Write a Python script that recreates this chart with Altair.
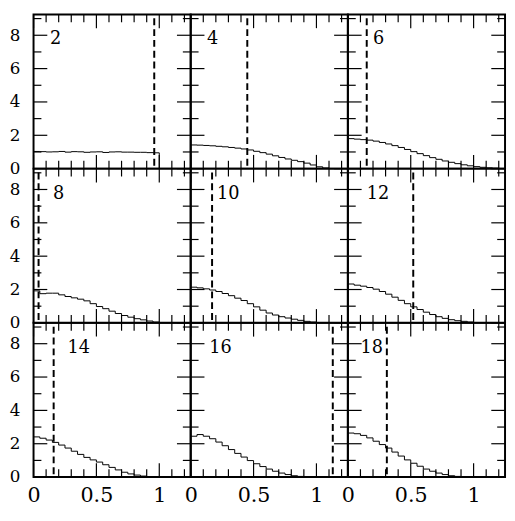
import altair as alt
import pandas as pd

panels = [2, 4, 6, 8, 10, 12, 14, 16, 18]

edges = [0.00, 0.05, 0.10, 0.15, 0.20, 0.25, 0.30, 0.35, 0.40, 0.45, 0.50, 0.55,
         0.60, 0.65, 0.70, 0.75, 0.80, 0.85, 0.90, 0.95, 1.00, 1.05, 1.10, 1.15, 1.20]

h2 = [1.03, 1.02, 1.00, 1.01, 1.03, 0.99, 1.02, 1.01, 0.98, 1.00, 1.01, 0.97,
      1.00, 1.01, 0.99, 0.99, 0.98, 0.98, 0.96, 0.95]
h4 = [1.42, 1.41, 1.39, 1.37, 1.34, 1.31, 1.27, 1.23, 1.18, 1.12, 1.04, 0.96,
      0.87, 0.77, 0.67, 0.58, 0.50, 0.42, 0.33, 0.22, 0.11, 0.04]
h6 = [1.80, 1.77, 1.74, 1.71, 1.65, 1.57, 1.48, 1.38, 1.27, 1.15, 1.02, 0.90,
      0.78, 0.66, 0.56, 0.46, 0.38, 0.30, 0.23, 0.17, 0.12, 0.08, 0.05, 0.03]
h8 = [1.92, 1.75, 1.78, 1.78, 1.68, 1.58, 1.50, 1.42, 1.32, 1.15, 0.98, 0.85,
      0.70, 0.56, 0.44, 0.34, 0.25, 0.18, 0.11, 0.05, 0.02]
h10 = [2.14, 2.10, 2.04, 1.97, 1.88, 1.76, 1.63, 1.48, 1.34, 1.15, 0.96, 0.76,
       0.59, 0.47, 0.37, 0.29, 0.22, 0.15, 0.09, 0.05, 0.02]
h12 = [2.33, 2.26, 2.20, 2.12, 2.02, 1.88, 1.72, 1.54, 1.35, 1.15, 0.96, 0.80,
       0.64, 0.50, 0.37, 0.27, 0.19, 0.13, 0.09, 0.05, 0.02]
h14 = [2.41, 2.33, 2.22, 2.08, 1.92, 1.74, 1.55, 1.36, 1.18, 1.03, 0.90, 0.74,
       0.58, 0.43, 0.29, 0.19, 0.12, 0.06, 0.03, 0.01]
h16 = [2.45, 2.55, 2.45, 2.30, 2.10, 1.88, 1.65, 1.42, 1.20, 0.99, 0.80, 0.63,
       0.48, 0.35, 0.24, 0.15, 0.08, 0.04, 0.01]
h18 = [2.64, 2.60, 2.50, 2.35, 2.15, 1.95, 1.74, 1.50, 1.26, 1.03, 0.83, 0.65,
       0.48, 0.35, 0.24, 0.15, 0.08, 0.04, 0.01]
hists = [h2, h4, h6, h8, h10, h12, h14, h16, h18]

dash_x = [0.96, 0.45, 0.15, 0.04, 0.17, 0.52, 0.16, 1.13, 0.31]

x_major = [0.0, 0.5, 1.0]
x_minor = [0.1, 0.2, 0.3, 0.4, 0.6, 0.7, 0.8, 0.9, 1.1, 1.2]
y_major = [0, 2, 4, 6, 8]
y_minor = [1, 3, 5, 7, 9]

# label placement (layout, not data)
label_x = [0.13, 0.13, 0.20, 0.155, 0.21, 0.15, 0.27, 0.147, 0.10]
label_y = 7.75

W, H = 160, 157
MAJ, MIN = 14, 8

rows = []
for p, h, d, lx in zip(panels, hists, dash_x, label_x):
    for e, v in zip(edges, h):
        rows.append(dict(panel=p, kind="hist", x=e, y=v))
    rows.append(dict(panel=p, kind="hist", x=edges[len(h)], y=0.0))
    rows.append(dict(panel=p, kind="dash", x=d, y=0.0))
    rows.append(dict(panel=p, kind="label", x=lx, y=label_y, text=str(p)))
    for t in x_major:
        rows.append(dict(panel=p, kind="xmaj", x=t, y=0.0))
    for t in x_minor:
        rows.append(dict(panel=p, kind="xmin", x=t, y=0.0))
    for t in y_major:
        rows.append(dict(panel=p, kind="ymaj", x=0.0, y=t))
    for t in y_minor:
        rows.append(dict(panel=p, kind="ymin", x=0.0, y=t))
df = pd.DataFrame(rows)
df["text"] = df["text"].fillna("")

xs = alt.Scale(domain=[0, 1.25], nice=False, zero=False)
ys = alt.Scale(domain=[0, 9.25], nice=False, zero=False)
FONT = "DejaVu Serif"
xaxis = alt.Axis(values=x_major, format="~g", ticks=False, domain=False, grid=False,
                 labelFlush=False, labelPadding=8, labelFont=FONT, labelFontSize=21,
                 labelColor="black", labelOverlap=False)
yaxis = alt.Axis(values=y_major, ticks=False, domain=False, grid=False, labelFlush=False,
                 labelPadding=14, labelFont=FONT, labelFontSize=17, labelColor="black",
                 labelOverlap=False)


def panel_chart(i):
    p = panels[i]
    r, c = divmod(i, 3)
    X = alt.X("x:Q", scale=xs, axis=xaxis if r == 2 else None, title=None)
    Y = alt.Y("y:Q", scale=ys, axis=yaxis if c == 0 else None, title=None)
    base = alt.Chart().transform_filter(alt.datum.panel == p)

    def f(kind):
        return alt.datum.kind == kind

    hist = base.mark_line(interpolate="step-after", color="black", strokeWidth=1).encode(
        x=X, y=Y).transform_filter(f("hist"))
    dash = base.mark_rule(color="black", strokeWidth=2, strokeDash=[7, 4]).encode(
        x=X, y=alt.value(4), y2=alt.value(H)).transform_filter(f("dash"))
    label = base.mark_text(align="left", baseline="middle", font=FONT, fontSize=18,
                           color="black").encode(x=X, y=Y, text="text:N").transform_filter(
        f("label"))

    def xtick(kind, y0, y1):
        return base.mark_rule(color="black", strokeWidth=1.2).encode(
            x=X, y=alt.value(y0), y2=alt.value(y1)).transform_filter(f(kind))

    def ytick(kind, x0, x1):
        return base.mark_rule(color="black", strokeWidth=1.2).encode(
            y=Y, x=alt.value(x0), x2=alt.value(x1)).transform_filter(f(kind))

    layers = [
        xtick("xmaj", 0, MAJ), xtick("xmaj", H, H - MAJ),
        xtick("xmin", 0, MIN), xtick("xmin", H, H - MIN),
        ytick("ymaj", 0, MAJ), ytick("ymaj", W, W - MAJ),
        ytick("ymin", 0, MIN), ytick("ymin", W, W - MIN),
        hist, dash, label,
    ]
    return alt.layer(*layers).properties(width=W, height=H)


chart = alt.concat(*[panel_chart(i) for i in range(9)], columns=3, spacing=0,
                   bounds="flush", data=df).properties(
    padding={"left": 0, "top": 0, "right": 0, "bottom": 0}
).configure_view(
    stroke="black", strokeWidth=2
)

chart.save("out.html", embed_options={"renderer": "svg", "actions": False})
